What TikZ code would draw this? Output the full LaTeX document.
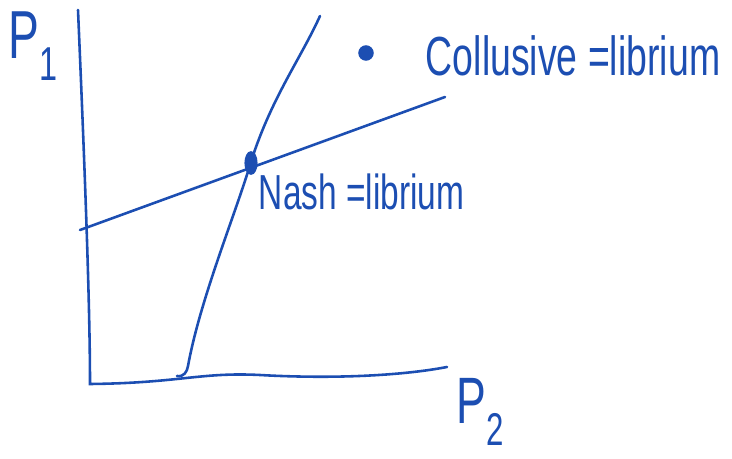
\documentclass[tikz,border=0pt]{standalone}
\usepackage{fontspec}
\setmainfont{Liberation Sans}
\usetikzlibrary{shapes.geometric}
\definecolor{pen}{RGB}{28,78,178}

\begin{document}
\begin{tikzpicture}[x=0.03cm, y=-0.03cm, line width=2.2pt, pen,
		lbl/.style={inner sep=0pt, text=pen, xscale=.68, transform shape}]
		\useasboundingbox (0,0) rectangle (732,459);

		\coordinate (ytop) at (78,10);
		\coordinate (origin) at (90,384);
		\coordinate (xend) at (447,367);
		\coordinate (left) at (80,230);
		\coordinate (right) at (445,97);
		\coordinate (foot) at (177,376);
		\coordinate (tip) at (320,16);

		\draw[line cap=round] (ytop) .. controls (84,150) and (90,300) .. (origin)
			.. controls (180,383) and (200,372) .. (260,375)
			.. controls (330,379) and (400,376) .. (xend);
		\draw[line cap=round] (left) -- (right);
		\draw[line cap=round] (foot) .. controls (184,377) and (187,372) .. (188,366)
			.. controls (200,300) and (235,215) .. (250,165)
			.. controls (270,100) and (300,60) .. (tip);

		\node[ellipse, fill=pen, draw=pen, minimum width=9pt, minimum height=18pt, inner sep=0pt] (nash) at (251,163) {};
		\node[circle, fill=pen, draw=pen, minimum size=11pt, inner sep=0pt] (coll) at (366,53) {};

		\node[lbl, font=\fontsize{58}{62}\selectfont, anchor=south west] (p1) at (8,82) {P\textsubscript{1}};
		\node[lbl, font=\fontsize{56}{60}\selectfont, anchor=south west] (p2) at (456,447) {P\textsubscript{2}};
		\node[lbl, font=\fontsize{47}{52}\selectfont, anchor=base west] (colltxt) at (425,76) {Collusive =librium};
		\node[lbl, font=\fontsize{42}{48}\selectfont, anchor=base west] (nashtxt) at (258,210) {Nash =librium};
	\end{tikzpicture}
\end{document}
